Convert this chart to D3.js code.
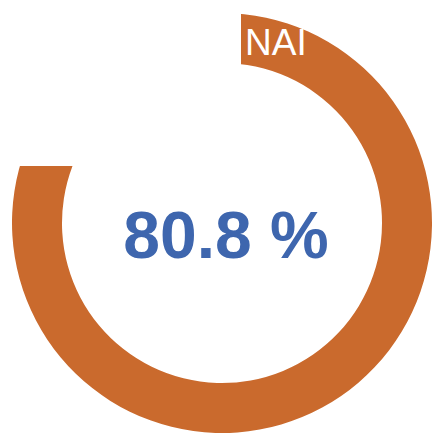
<!DOCTYPE html>
<html>
<head>
<meta charset="utf-8">
<script src="https://cdn.jsdelivr.net/npm/d3@7"></script>
<style>
  body { margin: 0; background: #fff; }
  text { font-family: 'Liberation Sans', Arial, sans-serif; }
</style>
</head>
<body>
<svg id="drawing_region"></svg>
<script>
// data
const labels = ['NAI', 'rest'];
const values = [80.8, 19.2];
const colors = ['#CA6A2D', 'none'];

const config = {
    width: 433,
    height: 436,
    cx: 222,
    cy: 223,
    outer: 210,
    inner: 160
};

const svg = d3.select('#drawing_region')
    .attr('width', config.width)
    .attr('height', config.height);

const data = labels.map((l, i) => ({ label: l, value: values[i], color: colors[i] }));

const pie = d3.pie()
    .sort(null)
    .value(d => d.value);

const arc = d3.arc()
    .innerRadius(config.inner)
    .outerRadius(config.outer);

const slices = pie(data);

// the source picture is cropped straight at both ends of the ring
const endAngle = slices[0].endAngle;
const cutY = config.cy - config.inner * Math.cos(endAngle);
const clip = svg.append('defs').append('clipPath').attr('id', 'ringclip');
clip.append('rect')
    .attr('x', config.cx + 19).attr('y', 0)
    .attr('width', config.width).attr('height', config.height);
clip.append('rect')
    .attr('x', 0).attr('y', cutY)
    .attr('width', config.width).attr('height', config.height);

const chart = svg.append('g')
    .attr('clip-path', 'url(#ringclip)')
    .append('g')
    .attr('transform', `translate(${config.cx}, ${config.cy})`);

chart.selectAll('path')
    .data(slices)
    .enter()
    .append('path')
    .attr('d', arc)
    .attr('fill', d => d.data.color);

// series label on the ring
svg.append('text')
    .text(labels[0])
    .attr('x', config.cx + 23)
    .attr('y', 55)
    .attr('font-size', '37px')
    .attr('fill', '#fff');

// value in the middle
svg.append('text')
    .text(d3.format('.1f')(values[0]) + ' %')
    .attr('x', config.cx + 4)
    .attr('y', 258)
    .attr('text-anchor', 'middle')
    .attr('font-weight', 'bold')
    .attr('font-size', '66px')
    .attr('fill', '#3E66AE');
</script>
</body>
</html>
